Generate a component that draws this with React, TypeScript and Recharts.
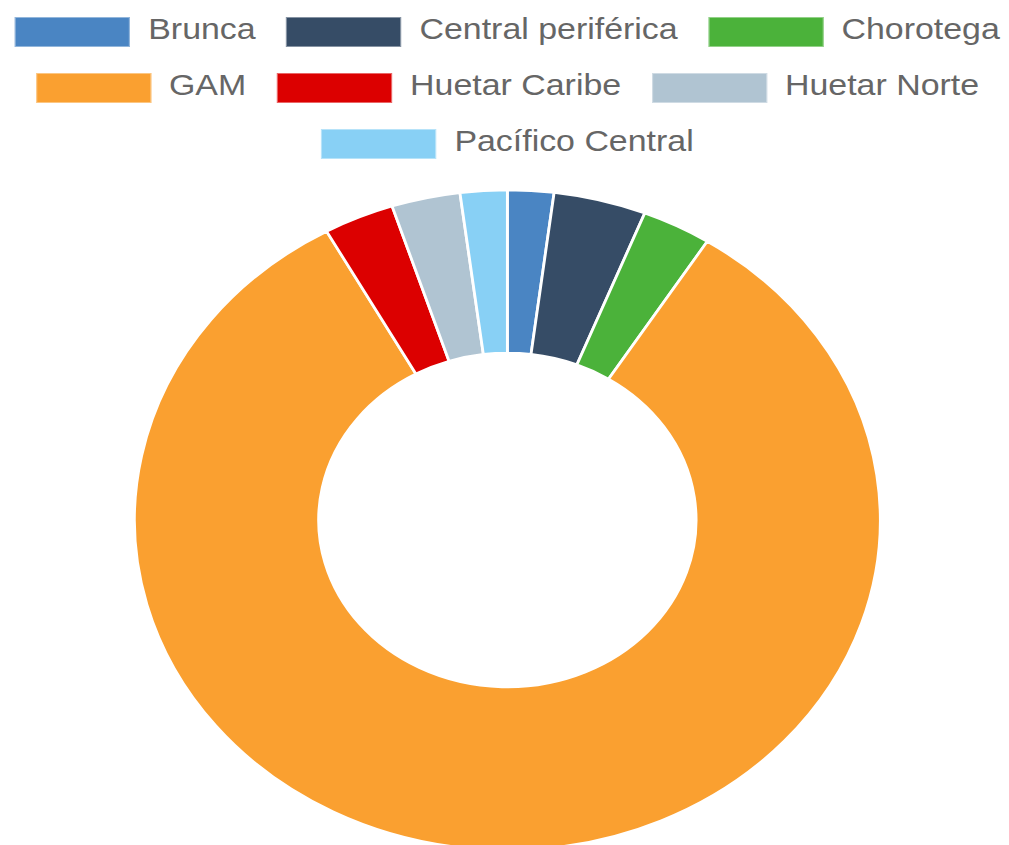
import { PieChart, Pie, Cell } from "recharts";

const REGIONS = [
  "Brunca",
  "Central periférica",
  "Chorotega",
  "GAM",
  "Huetar Caribe",
  "Huetar Norte",
  "Pacífico Central",
];

const SHARES = [2.0, 4.0, 3.0, 82.9, 3.05, 2.97, 2.03];

const COLORS = ["#4a85c3", "#364c66", "#4bb23a", "#faa030", "#dc0000", "#b0c4d2", "#88d0f5"];

const data = REGIONS.map((name, i) => ({ name, value: SHARES[i] }));

// the reference is stretched horizontally, so draw narrower and scale in x
const STRETCH = 1.13;
const W = 898;
const H = 845;

function LegendBlock() {
  return (
    <div
      style={{
        position: "absolute",
        top: 17,
        left: 0,
        width: W,
        display: "flex",
        flexWrap: "wrap",
        justifyContent: "center",
        columnGap: 27,
        rowGap: 26,
        fontFamily: "'Liberation Sans', Arial, sans-serif",
        fontSize: 30,
        color: "#666",
      }}
    >
      {REGIONS.map((name, i) => (
        <div key={name} style={{ display: "flex", alignItems: "flex-start", height: 30 }}>
          <div
            style={{
              width: 102,
              height: 30,
              backgroundColor: COLORS[i],
              boxSizing: "border-box",
              border: "1px solid rgba(255,255,255,0.4)",
            }}
          />
          <span style={{ marginLeft: 16, lineHeight: "24px", whiteSpace: "nowrap" }}>{name}</span>
        </div>
      ))}
    </div>
  );
}

export default function App() {
  return (
    <div
      style={{
        position: "absolute",
        left: 0,
        top: 0,
        width: 1009,
        height: 845,
        overflow: "hidden",
        background: "#fff",
      }}
    >
      <div
        style={{
          position: "relative",
          width: W,
          height: H,
          transform: `scaleX(${STRETCH})`,
          transformOrigin: "0 0",
        }}
      >
        <PieChart width={W} height={H} margin={{ top: 0, right: 0, bottom: 0, left: 0 }}>
          <Pie
            data={data}
            dataKey="value"
            nameKey="name"
            cx={449}
            cy={520}
            innerRadius={167}
            outerRadius={330}
            startAngle={90}
            endAngle={-270}
            stroke="#fff"
            strokeWidth={2.5}
            isAnimationActive={false}
          >
            {data.map((d, i) => (
              <Cell key={d.name} fill={COLORS[i]} />
            ))}
          </Pie>
        </PieChart>
        <LegendBlock />
      </div>
    </div>
  );
}
